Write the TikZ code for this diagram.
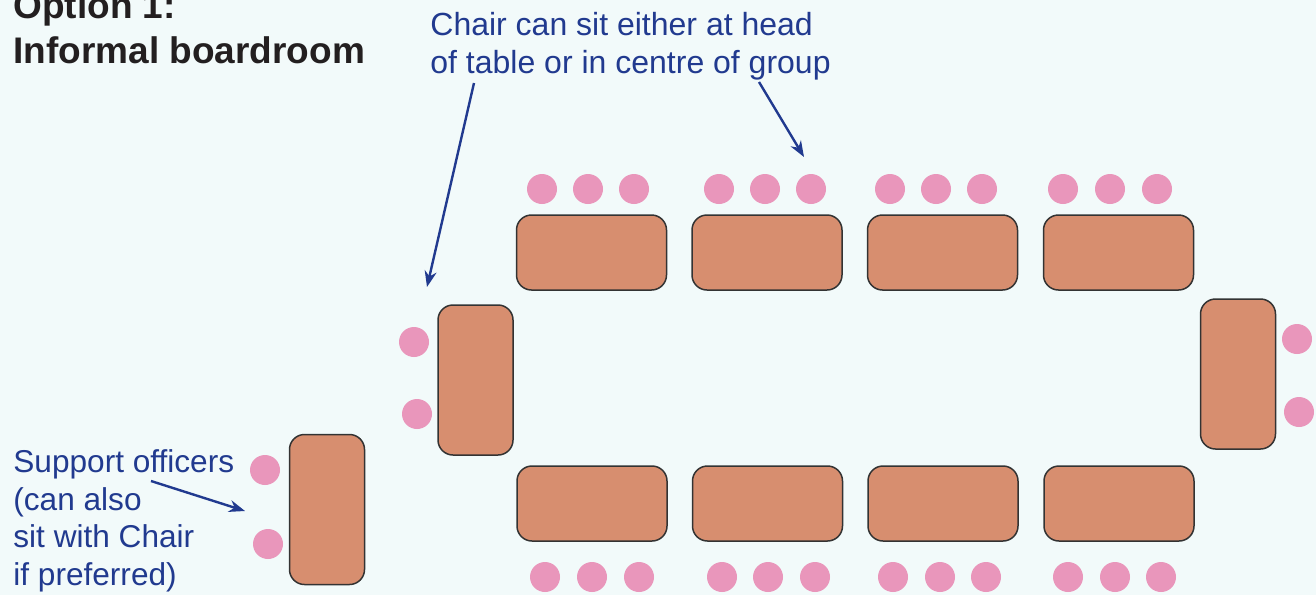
\documentclass[tikz,border=0pt]{standalone}
\usepackage{fontspec}
\setmainfont{Liberation Sans}
\usetikzlibrary{arrows.meta}
\definecolor{bgc}{HTML}{F2FAFA}
\definecolor{tablec}{HTML}{D78E6F}
\definecolor{chairc}{HTML}{E996BB}
\definecolor{bluec}{HTML}{213A8F}
\definecolor{titlec}{HTML}{231F20}
\tikzset{
  tbl/.style={draw=black!80, line width=0.75pt, fill=tablec, rounded corners=7.5pt, inner sep=0pt, minimum width=75pt, minimum height=37.5pt},
  vtbl/.style={tbl, minimum width=37.5pt, minimum height=75pt},
  chair/.style={circle, fill=chairc, inner sep=0pt, minimum size=15pt},
  note/.style={text=bluec, font=\fontsize{16}{19}\selectfont, align=left, inner sep=0pt, anchor=base west},
  pointer/.style={draw=bluec, line width=1.2pt, -{Stealth[length=8pt,width=6pt]}}
}
\begin{document}
\begin{tikzpicture}[x=0.5pt,y=-0.5pt]
\fill[bgc] (0,0) rectangle (1316,595);
\useasboundingbox (0,0) rectangle (1316,595);
% title (base anchor = baseline of last line)
\node[text=titlec, font=\fontsize{18.5}{22.5}\selectfont\bfseries, align=left, inner sep=0pt, anchor=base west] (title) at (13,63) {Option 1:\\Informal boardroom};
% notes
\node[note] (chairnote) at (430,73) {Chair can sit either at head\\of table or in centre of group};
\node[note, font=\fontsize{15.8}{18.75}\selectfont] (supnote) at (13,585) {Support officers\\(can also\\sit with Chair\\if preferred)};
% tables
\node[tbl] (t1) at (591.5,252.5) {};
\node[tbl] (t2) at (767,252.5) {};
\node[tbl] (t3) at (942.5,252.5) {};
\node[tbl] (t4) at (1118.5,252.5) {};
\node[tbl] (b1) at (592,503.5) {};
\node[tbl] (b2) at (767.5,503.5) {};
\node[tbl] (b3) at (943,503.5) {};
\node[tbl] (b4) at (1119,503.5) {};
\node[vtbl] (lt) at (475.5,380) {};
\node[vtbl] (rt) at (1238,374) {};
\node[vtbl] (st) at (327,509.5) {};
% chairs top
\foreach \x [count=\i] in {542,588,634,719,765,811,890,936,982,1063,1110,1157}
  \node[chair] (ct\i) at (\x,189) {};
% chairs bottom
\foreach \x [count=\i] in {545,592,639,722,768,815,893,940,986,1068,1115,1161}
  \node[chair] (cb\i) at (\x,577) {};
% side chairs
\node[chair] (cl1) at (414,342) {};
\node[chair] (cl2) at (417,414) {};
\node[chair] (cr1) at (1297,339) {};
\node[chair] (cr2) at (1299,412) {};
\node[chair] (cs1) at (265,470) {};
\node[chair] (cs2) at (268,544) {};
% arrows
\coordinate (a1s) at (474,83);
\coordinate (a1e) at (427,287);
\coordinate (a2s) at (759,82);
\coordinate (a2e) at (804,157);
\coordinate (a3s) at (151,481);
\coordinate (a3e) at (245,511);
\draw[pointer] (a1s) -- (a1e);
\draw[pointer] (a2s) -- (a2e);
\draw[pointer] (a3s) -- (a3e);
\end{tikzpicture}
\end{document}
